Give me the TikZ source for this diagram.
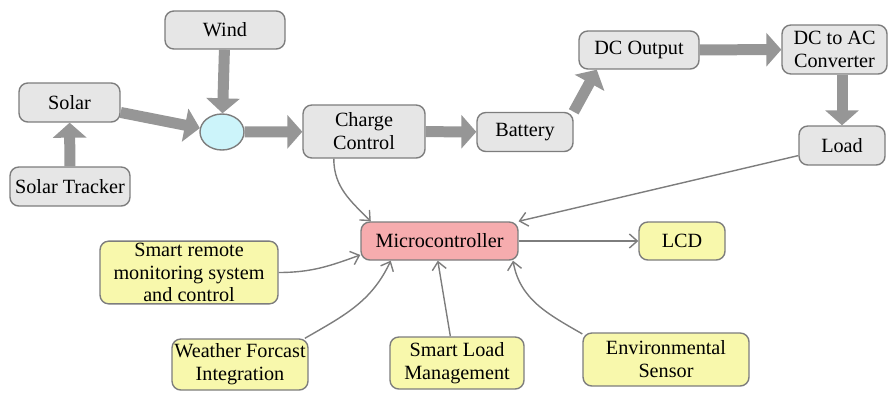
\documentclass[tikz,border=0pt]{standalone}
\usepackage{fontspec}
\setmainfont{Liberation Serif}
\usetikzlibrary{arrows.meta,shapes.geometric}
\definecolor{boxgray}{RGB}{230,230,230}
\definecolor{edgegray}{RGB}{125,125,125}
\definecolor{pipegray}{RGB}{150,150,150}
\definecolor{softyellow}{RGB}{248,248,172}
\definecolor{softpink}{RGB}{246,172,174}
\definecolor{softcyan}{RGB}{204,244,250}
\begin{document}
\begin{tikzpicture}[x=0.02cm, y=-0.02cm,
	box/.style={draw=edgegray, fill=boxgray, line width=0.8pt, rounded corners=5pt, align=center, inner sep=1pt, font=\rmfamily\fontsize{11.5}{13}\selectfont},
	ybox/.style={box, fill=softyellow},
	pipe/.style={draw=pipegray, line width=0.22cm, -{Triangle[length=0.3cm, width=0.66cm]}},
	wire/.style={draw=edgegray, line width=0.8pt, -{Straight Barb[length=4.5pt, width=8pt]}}]
	\useasboundingbox (0,0) rectangle (891,392);
	% power path
	\node[box, minimum width=2.4cm, minimum height=0.76cm] (wind) at (225,30) {Wind};
	\node[box, minimum width=2.02cm, minimum height=0.78cm] (solar) at (69.5,102.5) {Solar};
	\node[box, minimum width=2.4cm, minimum height=0.78cm] (tracker) at (70,186.5) {Solar Tracker};
	\node[ellipse, draw=edgegray, fill=softcyan, line width=0.8pt, minimum width=0.88cm, minimum height=0.72cm, inner sep=0pt] (mix) at (222,132) {};
	\node[box, minimum width=2.44cm, minimum height=1.06cm] (charge) at (364,131.5) {Charge\\Control};
	\node[box, minimum width=1.92cm, minimum height=0.78cm] (battery) at (525,132) {Battery};
	\node[box, minimum width=2.4cm, minimum height=0.76cm] (dcout) at (639,50) {DC Output};
	\node[box, minimum width=2.1cm, minimum height=0.98cm] (conv) at (834.5,49.5) {DC to AC\\Converter};
	\node[box, minimum width=1.72cm, minimum height=0.78cm] (load) at (842,145.5) {Load};
	% control part
	\node[box, fill=softpink, minimum width=3.14cm, minimum height=0.76cm] (mcu) at (439.5,241) {Microcontroller};
	\node[ybox, minimum width=1.72cm, minimum height=0.76cm] (lcd) at (682,241) {LCD};
	\node[ybox, minimum width=3.56cm, minimum height=1.22cm] (remote) at (189,272.5) {Smart remote\\monitoring system\\and control};
	\node[ybox, minimum width=2.72cm, minimum height=1.02cm] (weather) at (240,364.5) {Weather Forcast\\Integration};
	\node[ybox, minimum width=2.68cm, minimum height=1.04cm] (smartload) at (457,363) {Smart Load\\Management};
	\node[ybox, minimum width=3.32cm, minimum height=1.06cm] (env) at (666,359.5) {Environmental\\Sensor};

	\draw[pipe] (wind) -- (mix);
	\draw[pipe] (solar.-11) -- (mix.170);
	\draw[pipe] (tracker) -- (solar);
	\draw[pipe] (mix) -- (charge);
	\draw[pipe] (charge) -- (battery);
	\draw[pipe] (battery.north east) -- (dcout.205);
	\draw[pipe] (dcout) -- (conv);
	\draw[pipe] (conv.south -| load.north) -- (load.north);

	\draw[wire] (charge.222) to[out=-90, in=135] (mcu.164);
	\draw[wire] (load.193) -- (mcu.14);
	\draw[wire] (mcu) -- (lcd);
	\draw[wire] (remote.east) to[out=0, in=200] (mcu.190);
	\draw[wire] (weather.22) to[out=30, in=-115] (mcu.202);
	\draw[wire] (smartload.104) -- (mcu.265);
	\draw[wire] (env.163) to[out=150, in=-80] (mcu.-15);
\end{tikzpicture}
\end{document}
